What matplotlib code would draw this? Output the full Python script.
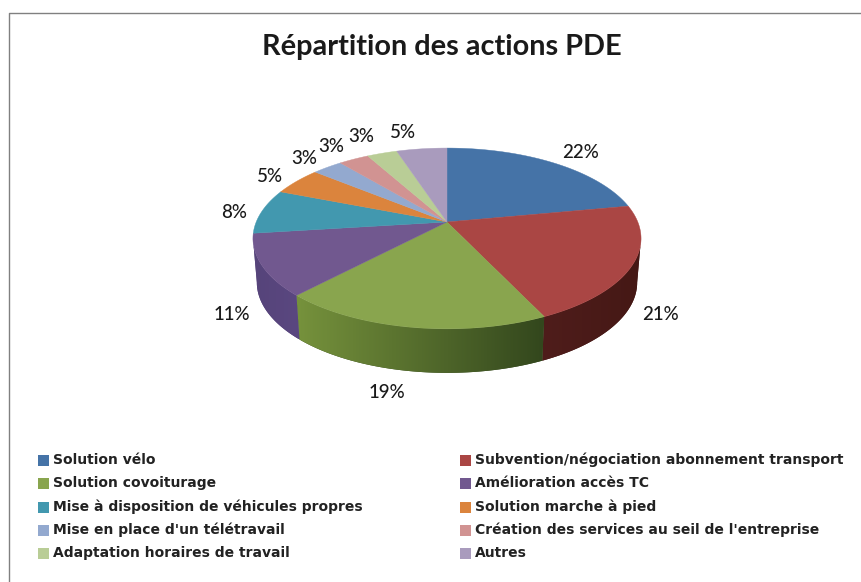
import matplotlib
matplotlib.use('Agg')
import matplotlib.pyplot as plt
from matplotlib.colors import LinearSegmentedColormap
from matplotlib.patches import Polygon, Rectangle
import numpy as np

title = "Répartition des actions PDE"
# clockwise from 12 o'clock, the legend reads in the same order row by row
labels = ["Solution vélo", "Subvention/négociation abonnement transport",
          "Solution covoiturage", "Amélioration accès TC",
          "Mise à disposition de véhicules propres", "Solution marche à pied",
          "Mise en place d'un télétravail", "Création des services au seil de l'entreprise",
          "Adaptation horaires de travail", "Autres"]
values = [22, 21, 19, 11, 8, 5, 3, 3, 3, 5]
colors = ['#4573a7', '#aa4644', '#89a54e', '#71588f', '#4298af',
          '#db843d', '#93a9cf', '#d19392', '#b9cd96', '#a99bbd']
# side wall shading (left colour, right colour) of the slices in front
side_colors = {1: ('#4f1d1b', '#451815'), 2: ('#76923c', '#33471d'), 3: ('#56447a', '#5a4780')}
label_pos = [(581, 152), (660, 314), (387, 393), (232, 314), (234, 212),
             (270, 176), (304, 158), (331, 147), (361, 137), (403, 132)]

W, H = 862, 582
CX, CY = 447, 222
TILT = 0.182
K = 190.8
A = -47
DEPTH = 44


def project(angle):
    # tilted disc seen in perspective, angle clockwise from the top
    u, v = np.sin(angle), np.cos(angle)
    d = 1 + TILT * v
    return CX + K * u / d, (A * v + CY) / d


fig = plt.figure(figsize=(W / 100, H / 100), dpi=100)
ax = fig.add_axes([0, 0, 1, 1])
ax.axis('off')

# frame of the chart
ax.plot([9.5, 9.5, W], [H, 12.5, 12.5], color='#808080', lw=1)

edges = np.cumsum([0] + values) / sum(values) * 2 * np.pi

# side wall, between the two widest points of the rim
left_end = 2 * np.pi - np.arccos(-TILT)
right_end = np.arccos(-TILT)
for i, (c_left, c_right) in side_colors.items():
    a = np.linspace(max(edges[i], right_end), min(edges[i + 1], left_end), 100)
    x, y = project(a)
    bx = CX + (x - CX) * 0.98
    by = y + DEPTH
    poly = Polygon(np.c_[np.r_[x, bx[::-1]], np.r_[y, by[::-1]]], closed=True,
                   facecolor=c_right, edgecolor='none', zorder=2)
    ax.add_patch(poly)
    cmap = LinearSegmentedColormap.from_list('side', [c_left, c_right])
    img = ax.imshow(np.linspace(0, 1, 200)[None, :], cmap=cmap, aspect='auto', zorder=2.5,
                    extent=(min(x.min(), bx.min()), max(x.max(), bx.max()), by.max(), y.min()))
    img.set_clip_path(poly)

# top of the pie
for i, c in enumerate(colors):
    a = np.linspace(edges[i], edges[i + 1], 120)
    x, y = project(a)
    ax.fill(np.r_[CX, x], np.r_[CY, y], color=c, lw=0.3, zorder=3)

ax.text(442, 47, title, fontsize=20.8, fontfamily='Lato', fontweight='bold',
        color='#1a1a1a', ha='center', va='center')

for v, (x, y) in zip(values, label_pos):
    ax.text(x, y, f"{v}%", fontsize=13.5, fontfamily='Lato', fontweight='medium',
            color='#1a1a1a', ha='center', va='center', zorder=5)

# legend, two columns filled row by row
rows_y = [460, 483, 507, 530, 553]
for i, lab in enumerate(labels):
    y = rows_y[i // 2]
    sx = 38 if i % 2 == 0 else 460
    ax.add_patch(Rectangle((sx, y - 5.5), 11, 11, color=colors[i], lw=0))
    ax.text(sx + 15, y, lab, fontsize=10, fontfamily='DejaVu Sans', fontweight='bold',
            color='#222222', ha='left', va='center')

ax.set_xlim(0, W)
ax.set_ylim(H, 0)
fig.savefig('out.png', dpi=100)
